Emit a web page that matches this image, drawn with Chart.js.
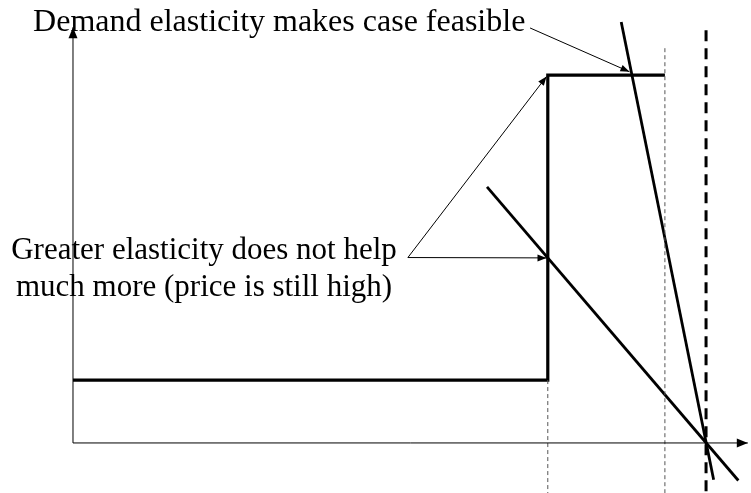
<!DOCTYPE html>
<html>
<head>
<meta charset="utf-8">
<script src="https://cdn.jsdelivr.net/npm/chart.js@4"></script>
<style>
  body { margin: 0; background: #fff; }
  #wrap { width: 751px; height: 493px; }
</style>
</head>
<body>
<div id="wrap"><canvas id="myChart"></canvas></div>
<script>
'use strict';

// quantity on x (capacity = 100), price on y (high price = 100)
const lowPrice = 17.1;
const highPrice = 100;
const stepQty = 75;
const capQty = 93.5;
const maxQty = 100;

// step-shaped supply curve
const supplyX = [0, stepQty, stepQty, capQty];
const supplyY = [lowPrice, lowPrice, highPrice, highPrice];

// two demand lines, both ending at maxQty on the axis
const steepX = [86.6, 101.2];
const steepY = [114.4, -10];
const elasticX = [65.4, 105.1];
const elasticY = [69.6, -10.2];

// vertical reference lines
const stepLineY = [lowPrice, -14];
const capLineY = [107.3, -14];
const maxLineY = [112.2, -14];

// axis ends
const axisXEnd = 106.6;
const axisYEnd = 113.0;

// annotations: text lines and arrows
const notes = [
  { lines: ['Demand elasticity makes case feasible'], x: -6.3, y: 112.0, size: 32, align: 'left' },
  { lines: ['Greater elasticity does not help', 'much more (price is still high)'], x: 20.7, y: 50.0, size: 31, align: 'center' }
];
const arrows = [
  { from: [72.2, 112.8], to: [87.9, 100.9] },
  { from: [52.9, 50.4], to: [74.8, 99.6] },
  { from: [52.9, 50.4], to: [74.8, 50.3] }
];

function pts(xs, ys) {
  return xs.map((x, i) => ({ x: x, y: ys[i] }));
}

function line(data, width, dash, color) {
  return {
    data: data,
    showLine: true,
    borderColor: color || '#000',
    borderWidth: width,
    borderDash: dash || [],
    pointRadius: 0,
    fill: false
  };
}

function arrowHead(ctx, x1, y1, x2, y2, len, half) {
  const a = Math.atan2(y2 - y1, x2 - x1);
  ctx.beginPath();
  ctx.moveTo(x2, y2);
  ctx.lineTo(x2 - len * Math.cos(a) + half * Math.sin(a), y2 - len * Math.sin(a) - half * Math.cos(a));
  ctx.lineTo(x2 - len * Math.cos(a) - half * Math.sin(a), y2 - len * Math.sin(a) + half * Math.cos(a));
  ctx.closePath();
  ctx.fill();
}

const notesPlugin = {
  id: 'notes',
  afterDatasetsDraw(chart) {
    const ctx = chart.ctx;
    const sx = chart.scales.x, sy = chart.scales.y;
    ctx.save();
    ctx.fillStyle = '#000';
    ctx.strokeStyle = '#000';

    // arrowheads on the axes
    arrowHead(ctx, sx.getPixelForValue(0), sy.getPixelForValue(0), sx.getPixelForValue(axisXEnd), sy.getPixelForValue(0), 11, 4.5);
    arrowHead(ctx, sx.getPixelForValue(0), sy.getPixelForValue(0), sx.getPixelForValue(0), sy.getPixelForValue(axisYEnd), 11, 4.5);

    ctx.lineWidth = 1;
    arrows.forEach(a => {
      const x1 = sx.getPixelForValue(a.from[0]), y1 = sy.getPixelForValue(a.from[1]);
      const x2 = sx.getPixelForValue(a.to[0]), y2 = sy.getPixelForValue(a.to[1]);
      ctx.beginPath();
      ctx.moveTo(x1, y1);
      ctx.lineTo(x2, y2);
      ctx.stroke();
      arrowHead(ctx, x1, y1, x2, y2, 9, 3.5);
    });

    ctx.textBaseline = 'alphabetic';
    notes.forEach(n => {
      ctx.font = n.size + 'px "Liberation Serif", "Times New Roman", serif';
      ctx.textAlign = n.align;
      const x = sx.getPixelForValue(n.x);
      const y = sy.getPixelForValue(n.y);
      n.lines.forEach((t, i) => ctx.fillText(t, x, y + i * 37));
    });
    ctx.restore();
  }
};

const progressChart = document.getElementById('myChart');

new Chart(progressChart, {
  type: 'scatter',
  data: {
    datasets: [
      line(pts([0, axisXEnd], [0, 0]), 1),
      line(pts([0, 0], [0, axisYEnd]), 1),
      line(pts([stepQty, stepQty], stepLineY), 1, [4, 3], '#555'),
      line(pts([capQty, capQty], capLineY), 1, [4, 3], '#555'),
      line(pts([maxQty, maxQty], maxLineY), 3, [11, 7]),
      line(pts(supplyX, supplyY), 3.2),
      line(pts(steepX, steepY), 2.8),
      line(pts(elasticX, elasticY), 2.8)
    ]
  },
  options: {
    responsive: true,
    maintainAspectRatio: false,
    animation: false,
    layout: { padding: 0 },
    plugins: {
      legend: { display: false },
      tooltip: { enabled: false }
    },
    scales: {
      x: { type: 'linear', min: -11.53, max: 107.1, display: false },
      y: { type: 'linear', min: -13.6, max: 120.4, display: false }
    }
  },
  plugins: [notesPlugin]
});
</script>
</body>
</html>
